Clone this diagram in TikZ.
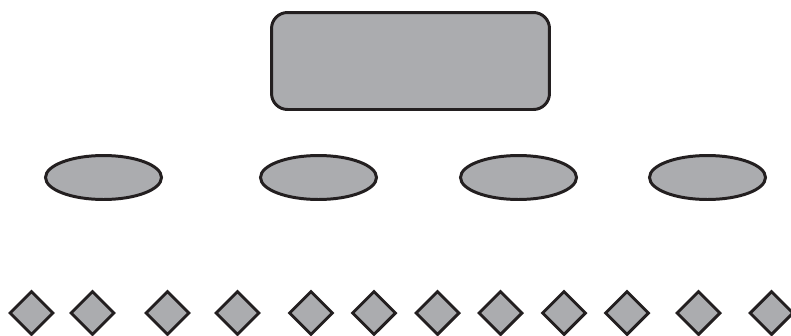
\documentclass[tikz,border=0pt]{standalone}
\usepackage{tikz}
\usetikzlibrary{shapes.geometric, positioning}

\definecolor{shapegray}{HTML}{ABACAF}
\definecolor{inkline}{HTML}{231F20}

\begin{document}
\begin{tikzpicture}[
    x=0.02cm, y=-0.02cm,
    % --- STYLES ---
    topbox/.style={
        rectangle, rounded corners=0.32cm,
        draw=inkline, fill=shapegray, line width=1.7pt,
        minimum width=5.56cm, minimum height=1.94cm,
        inner sep=0pt
    },
    midoval/.style={
        ellipse, draw=inkline, fill=shapegray, line width=1.7pt,
        minimum width=2.32cm, minimum height=0.88cm,
        inner sep=0pt
    },
    leaf/.style={
        diamond, draw=inkline, fill=shapegray, line width=1.7pt,
        minimum width=0.88cm, minimum height=0.88cm,
        inner sep=0pt
    }
]

% ===== 1. FRAME =====
\useasboundingbox (0,0) rectangle (791,335);

% ===== 2. TOP LEVEL =====
\node[topbox] (root) at (410.5, 61) {};

% ===== 3. MIDDLE LEVEL =====
\node[midoval] (o1) at (103.5, 177.5) {};
\node[midoval] (o2) at (318.5, 177.5) {};
\node[midoval] (o3) at (518.5, 177.5) {};
\node[midoval] (o4) at (707.5, 177.5) {};

% ===== 4. BOTTOM LEVEL =====
\node[leaf] (d1) at (31.5, 313) {};
\node[leaf] (d2) at (92.5, 313) {};
\node[leaf] (d3) at (167.5, 313) {};
\node[leaf] (d4) at (237.5, 313) {};
\node[leaf] (d5) at (311, 313) {};
\node[leaf] (d6) at (374, 313) {};
\node[leaf] (d7) at (437.5, 313) {};
\node[leaf] (d8) at (500.5, 313) {};
\node[leaf] (d9) at (564, 313) {};
\node[leaf] (d10) at (627, 313) {};
\node[leaf] (d11) at (698.5, 313) {};
\node[leaf] (d12) at (771.5, 313) {};

\end{tikzpicture}
\end{document}
